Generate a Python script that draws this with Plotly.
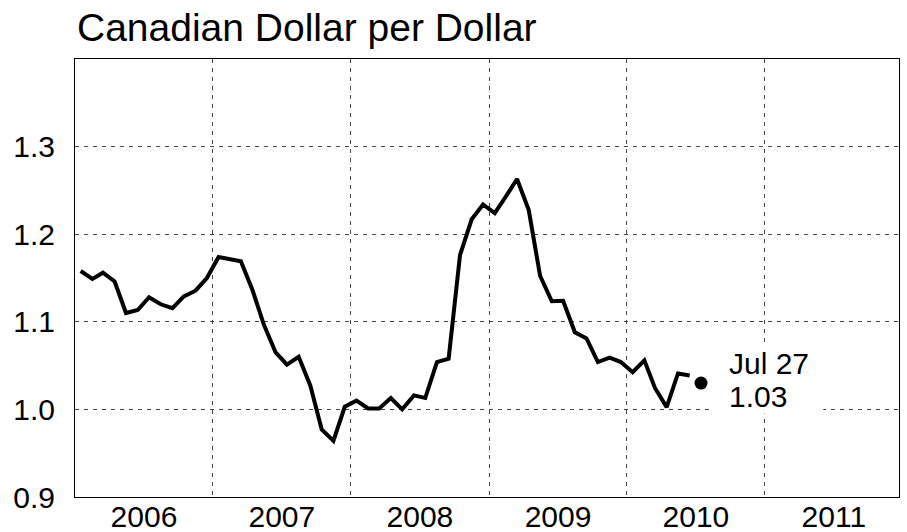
import plotly.graph_objects as go

# ---- data ----
months = (
    [f"2006-{m:02d}-16" for m in range(1, 13)]
    + [f"2007-{m:02d}-16" for m in range(1, 13)]
    + [f"2008-{m:02d}-16" for m in range(1, 13)]
    + [f"2009-{m:02d}-16" for m in range(1, 13)]
    + [f"2010-{m:02d}-16" for m in range(1, 7)]
)
cad_per_usd = [
    1.158, 1.149, 1.156, 1.146, 1.110, 1.1135, 1.128, 1.120, 1.1155, 1.129, 1.1355, 1.150,
    1.174, 1.171, 1.169, 1.136, 1.0965, 1.065, 1.051, 1.060, 1.027, 0.977, 0.964, 1.003,
    1.010, 1.001, 1.001, 1.013, 1.000, 1.016, 1.013, 1.054, 1.058, 1.176, 1.217, 1.234,
    1.224, 1.244, 1.263, 1.2275, 1.1526, 1.1234, 1.124, 1.088, 1.081, 1.054, 1.059, 1.054,
    1.0425, 1.056, 1.0245, 1.0026, 1.041, 1.0387,
]
latest_date = ["2010-07-16"]
latest_value = [1.03]
latest_label_date = "Jul 27"
latest_label_value = "1.03"

y_ticks = [0.9, 1.0, 1.1, 1.2, 1.3]
y_ticktext = ["0.9", "1.0", "1.1", "1.2", "1.3"]

title_text = "Canadian Dollar per Dollar"

FONT = "Liberation Sans, Arial, Helvetica, sans-serif"

fig = go.Figure()
fig.add_trace(go.Scatter(
    x=months, y=cad_per_usd, mode="lines",
    line=dict(color="black", width=4), hoverinfo="skip", showlegend=False,
))
fig.add_trace(go.Scatter(
    x=latest_date, y=latest_value, mode="markers",
    marker=dict(color="black", size=13), hoverinfo="skip", showlegend=False,
))

# white box behind the label
fig.add_shape(type="rect", xref="paper", yref="y",
              x0=(713 - 75.3) / 823.4, x1=(823 - 75.3) / 823.4,
              y0=0.9954, y1=1.0729, fillcolor="white", line_width=0, layer="above")

fig.add_annotation(x=latest_date[0], y=latest_value[0], text=latest_label_date,
                   showarrow=False, xanchor="left", yanchor="middle",
                   xshift=26, yshift=20, font=dict(family=FONT, size=30, color="black"))
fig.add_annotation(x=latest_date[0], y=latest_value[0], text=latest_label_value,
                   showarrow=False, xanchor="left", yanchor="middle",
                   xshift=26, yshift=-13, font=dict(family=FONT, size=30, color="black"))

grid = dict(showgrid=True, gridcolor="#444444", gridwidth=1, griddash="4px,5px")

fig.update_xaxes(
    type="date", range=["2006-01-01", "2011-12-22"],
    tick0="2006-01-01", dtick="M12", tickformat="%Y", ticklabelmode="period",
    showline=True, linecolor="black", linewidth=1, mirror=True,
    ticks="", zeroline=False, automargin=False, ticklabelstandoff=-7,
    tickfont=dict(family=FONT, size=30, color="black"),
    **grid,
)
fig.update_yaxes(
    range=[0.9, 1.4], tickvals=y_ticks, ticktext=y_ticktext,
    showline=True, linecolor="black", linewidth=1, mirror=True,
    ticks="", zeroline=False, ticklabelstandoff=13, automargin=False,
    tickfont=dict(family=FONT, size=30, color="black"),
    **grid,
)

fig.update_layout(
    width=907, height=532,
    margin=dict(l=75.3, r=8.3, t=58.5, b=35.3, autoexpand=False),
    paper_bgcolor="white", plot_bgcolor="white",
    title=dict(text=title_text, xref="container", yref="container",
               x=77 / 907, xanchor="left", y=1 - 27 / 532, yanchor="middle",
               font=dict(family=FONT, size=39, color="black")),
    showlegend=False,
)

fig.write_html(
    "out.html",
    config={"displayModeBar": False, "staticPlot": True},
    post_script="document.body.style.margin='0';document.body.style.overflow='hidden';",
)
